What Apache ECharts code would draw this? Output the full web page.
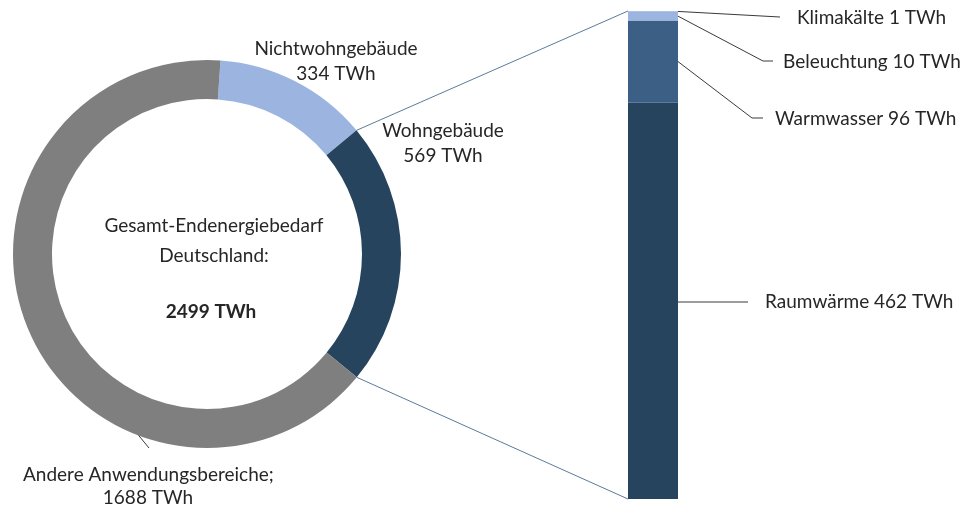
<!DOCTYPE html>
<html lang="de">
<head>
    <meta charset="UTF-8">
    <title>Endenergiebedarf</title>
    <script src="https://cdn.jsdelivr.net/npm/echarts@6/dist/echarts.min.js"></script>
    <style>
        html, body { margin: 0; padding: 0; background: #fff; }
        #main { width: 960px; height: 509px; }
    </style>
</head>
<body>
    <div id="main"></div>
    <script>
        // Ringdiagramm: Gesamt-Endenergiebedarf
        var ringNames = ['Nichtwohngebäude', 'Wohngebäude', 'Andere Anwendungsbereiche'];
        var ringValues = [334, 569, 1688];
        var ringColors = ['#9bb5e0', '#27445f', '#7f7f7f'];
        var totalValue = 2499;

        // Säule: Wohngebäude aufgeteilt (von unten nach oben)
        var barNames = ['Raumwärme', 'Warmwasser', 'Beleuchtung', 'Klimakälte'];
        var barValues = [462, 96, 10, 1];
        var barColors = ['#27445f', '#3b5f85', '#9bb5e0', '#9bb5e0'];

        var FONT = 'Lato';
        var TXT = '#262626';
        var startAngle = 86;
        var pieCenter = [207, 254];
        var pieR = [155, 194];

        var chart = echarts.init(document.getElementById('main'));

        var barSeries = barNames.map(function (name, i) {
            return {
                type: 'bar',
                name: name,
                stack: 'wg',
                barWidth: '100%',
                data: [barValues[i]],
                itemStyle: { color: barColors[i] },
                silent: true
            };
        });

        var option = {
            animation: false,
            backgroundColor: '#fff',
            grid: { left: 628, top: 11, width: 50, height: 488 },
            xAxis: { type: 'category', data: ['Wohngebäude'], show: false },
            yAxis: { type: 'value', min: 0, max: ringValues[1], show: false },
            series: [{
                type: 'pie',
                center: pieCenter,
                radius: pieR,
                startAngle: startAngle,
                silent: true,
                label: { show: false },
                labelLine: { show: false },
                data: ringNames.map(function (n, i) {
                    return { name: n, value: ringValues[i], itemStyle: { color: ringColors[i] } };
                })
            }].concat(barSeries)
        };
        chart.setOption(option);

        // Hilfslinien und Beschriftungen
        var sum = ringValues.reduce(function (a, b) { return a + b; }, 0);
        function ringPoint(cum, r) {
            var a = (startAngle - 360 * cum / sum) * Math.PI / 180;
            return [pieCenter[0] + r * Math.cos(a), pieCenter[1] - r * Math.sin(a)];
        }
        var cum0 = ringValues[0];
        var cum1 = ringValues[0] + ringValues[1];
        var p1 = ringPoint(cum0, pieR[1]);
        var p2 = ringPoint(cum1, pieR[1]);
        var barTopL = chart.convertToPixel({ gridIndex: 0 }, [0, ringValues[1]]);
        var barBotL = chart.convertToPixel({ gridIndex: 0 }, [0, 0]);
        var bl = 628, br = 678;

        function segY(idx, frac) {
            var c = 0;
            for (var i = 0; i < idx; i++) c += barValues[i];
            return chart.convertToPixel({ gridIndex: 0 }, [0, c + barValues[idx] * frac])[1];
        }

        var ls = { stroke: '#3a3a3a', lineWidth: 1 };
        var ts = function (text, x, y, align, bold) {
            return {
                type: 'text', x: x, y: y, silent: true,
                style: {
                    text: text, fill: TXT, font: (bold ? 'bold ' : '') + '19px ' + FONT,
                    align: align || 'left', verticalAlign: 'middle'
                }
            };
        };

        var graphics = [
            { type: 'line', shape: { x1: p1[0], y1: p1[1], x2: bl, y2: barTopL[1] }, style: { stroke: '#5b7b9b', lineWidth: 1 }, silent: true },
            { type: 'line', shape: { x1: p2[0], y1: p2[1], x2: bl, y2: barBotL[1] }, style: { stroke: '#5b7b9b', lineWidth: 1 }, silent: true },
            // Klimakälte
            { type: 'polyline', shape: { points: [[br, segY(3, 0.5)], [780, 17]] }, style: ls, silent: true },
            ts(barNames[3] + ' ' + barValues[3] + ' TWh', 797, 18),
            // Beleuchtung
            { type: 'polyline', shape: { points: [[br, segY(2, 0.5)], [763, 61], [773, 61]] }, style: ls, silent: true },
            ts(barNames[2] + ' ' + barValues[2] + ' TWh', 783, 62),
            // Warmwasser
            { type: 'polyline', shape: { points: [[br, segY(1, 0.5)], [752, 118], [763, 118]] }, style: ls, silent: true },
            ts(barNames[1] + ' ' + barValues[1] + ' TWh', 775, 119),
            // Raumwärme
            { type: 'polyline', shape: { points: [[br, 302], [748, 302]] }, style: ls, silent: true },
            ts(barNames[0] + ' ' + barValues[0] + ' TWh', 765, 302),
            // Ringbeschriftungen
            ts(ringNames[0], 336, 49, 'center'),
            ts(ringValues[0] + ' TWh', 336, 74, 'center'),
            ts(ringNames[1], 443, 131, 'center'),
            ts(ringValues[1] + ' TWh', 443, 156, 'center'),
            { type: 'line', shape: { x1: 45, y1: 322, x2: 149, y2: 448 }, style: ls, silent: true },
            ts(ringNames[2] + ';', 23, 475, 'left'),
            ts(ringValues[2] + ' TWh', 148, 498, 'center'),
            // Mitte
            ts('Gesamt-Endenergiebedarf', 214, 226, 'center'),
            ts('Deutschland:', 214, 256, 'center'),
            ts(totalValue + ' TWh', 211, 312, 'center', true)
        ];
        chart.setOption({ graphic: graphics });
    </script>
</body>
</html>
